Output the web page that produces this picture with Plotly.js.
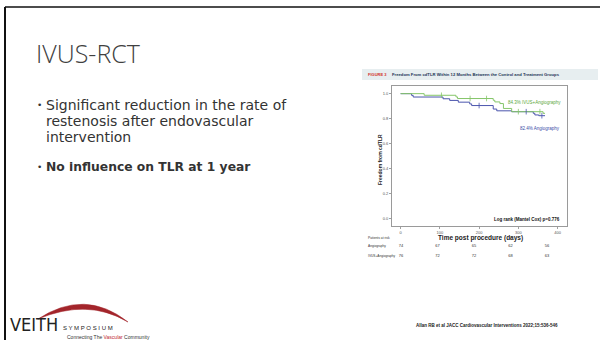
<!DOCTYPE html>
<html><head><meta charset="utf-8">
<script src="https://cdn.plot.ly/plotly-3.0.1.min.js"></script>
<style>html,body{margin:0;padding:0;background:#fff;}#chart{width:600px;height:340px;}</style>
</head><body><div id="chart"></div>
<script>
// ---- data ----
const ivusDays  = [0, 60, 141, 145, 236, 240, 253, 262, 283, 363, 368];
const ivusSurv  = [1.0, 0.987, 0.974, 0.961, 0.947, 0.934, 0.921, 0.882, 0.856, 0.843, 0.843];
const angioDays = [0, 28, 32, 108, 125, 147, 176, 181, 236, 245, 283, 338, 342, 352, 368];
const angioSurv = [1.0, 0.986, 0.973, 0.959, 0.946, 0.932, 0.918, 0.905, 0.877, 0.863, 0.856, 0.843, 0.830, 0.824, 0.824];
const ivusCensor  = [104, 177, 219, 300, 355];
const angioCensor = [200, 320, 360];
const xTicks = [0, 100, 200, 300, 400];
const yTicks = [0, 0.2, 0.4, 0.6, 0.8, 1.0];
const yTickText = ['0.0', '0.2', '0.4', '0.6', '0.8', '1.0'];
const riskTimes = [0, 100, 200, 300, 400];
const riskRows = ['Angiography', 'IVUS+Angiography'];
const riskAngio = [74, 67, 65, 62, 56];
const riskIvus  = [76, 72, 72, 68, 63];

const W = 600, H = 340;
const px = x => x / W, py = y => 1 - y / H;
const stepAt = (d, s, t) => { let v = s[0]; for (let i = 0; i < d.length; i++) if (d[i] <= t) v = s[i]; return v; };

const GREEN = '#86c66a', BLUE = '#4b55ad';

const traces = [
  {x: angioDays, y: angioSurv, mode: 'lines', line: {shape: 'hv', color: BLUE, width: 1}, hoverinfo: 'skip'},
  {x: ivusDays, y: ivusSurv, mode: 'lines', line: {shape: 'hv', color: GREEN, width: 1}, hoverinfo: 'skip'},
  {x: ivusCensor, y: ivusCensor.map(t => stepAt(ivusDays, ivusSurv, t)), mode: 'markers',
   marker: {symbol: 'line-ns-open', size: 4, color: GREEN, line: {width: 0.8, color: GREEN}}, hoverinfo: 'skip'},
  {x: angioCensor, y: angioCensor.map(t => stepAt(angioDays, angioSurv, t)), mode: 'markers',
   marker: {symbol: 'line-ns-open', size: 4, color: BLUE, line: {width: 0.8, color: BLUE}}, hoverinfo: 'skip'},
  {x: riskTimes.concat(riskTimes), y: riskTimes.map(() => 0).concat(riskTimes.map(() => 1)),
   text: riskAngio.concat(riskIvus).map(String), mode: 'text', xaxis: 'x2', yaxis: 'y2',
   textfont: {size: 4, color: '#333', family: 'Liberation Sans'}, cliponaxis: false, hoverinfo: 'skip'}
];

const tickFont = {size: 4, color: '#555', family: 'Liberation Sans'};
const ann = [];
function A(text, x, y, o) {
  o = o || {};
  ann.push(Object.assign({text: text, x: px(x), y: py(y), xref: 'paper', yref: 'paper', showarrow: false,
    xanchor: 'left', yanchor: 'middle', font: {size: 14, color: '#333', family: 'Lato'}}, o));
}
// slide texts
A('IVUS-RCT', 34, 53, {font: {size: 25, color: '#404040', family: 'Open Sans', weight: 300}});
const bodyFont = {size: 14, color: '#333', family: 'DejaVu Sans'};
A('•', 35, 105, {font: {size: 9, color: '#333', family: 'DejaVu Sans'}});
A('Significant reduction in the rate of', 44, 105, {font: bodyFont});
A('restenosis after endovascular', 44, 121, {font: bodyFont});
A('intervention', 44, 137, {font: bodyFont});
A('•', 35, 167, {font: {size: 9, color: '#333', family: 'DejaVu Sans'}});
A('No influence on TLR at 1 year', 44, 167, {font: {size: 12.3, color: '#333', family: 'DejaVu Sans', weight: 700}});
// chart texts
A('FIGURE 3', 366, 74.5, {font: {size: 4, color: '#d2302a', family: 'Liberation Sans', weight: 700}});
A('Freedom From cdTLR Within 12 Months Between the Control and Treatment Groups', 390, 74.5,
  {font: {size: 4.2, color: '#1e3556', family: 'Liberation Sans', weight: 700}});
A('84.3% IVUS+Angiography', 534, 102, {xanchor: 'center', font: {size: 4.5, color: '#5aa83c', family: 'Liberation Sans'}});
A('82.4% Angiography', 540, 128, {xanchor: 'center', font: {size: 4.5, color: '#3a4aa6', family: 'Liberation Sans'}});
A('Log rank (Mantel Cox) p=0.776', 527, 219, {xanchor: 'center', font: {size: 4.5, color: '#111', family: 'Liberation Sans', weight: 700}});
A('Freedom from cdTLR', 380, 160, {xanchor: 'center', textangle: -90, font: {size: 5, color: '#222', family: 'Liberation Sans', weight: 700}});
A('Time post procedure (days)', 480, 238, {xanchor: 'center', font: {size: 6.5, color: '#222', family: 'Liberation Sans', weight: 700}});
A('Patients at risk', 366, 238, {font: {size: 3.3, color: '#333', family: 'Liberation Sans'}});
ann.push({text: riskRows[0], x: px(366), y: 0, xref: 'paper', yref: 'y2', showarrow: false, xanchor: 'left', yanchor: 'middle', font: {size: 3.2, color: '#333', family: 'Liberation Sans'}});
ann.push({text: riskRows[1], x: px(366), y: 1, xref: 'paper', yref: 'y2', showarrow: false, xanchor: 'left', yanchor: 'middle', font: {size: 3.2, color: '#333', family: 'Liberation Sans'}});
A('Allan RB et al JACC Cardiovascular Interventions 2022;15:536-546', 487, 325, {xanchor: 'center', font: {size: 4.5, color: '#222', family: 'Liberation Sans', weight: 700}});
// logo
A('VEITH', 8, 324, {font: {size: 18, color: '#222', family: 'Liberation Sans Narrow, DejaVu Sans Condensed, sans-serif'}});
A('S Y M P O S I U M', 61, 328, {font: {size: 6, color: '#222', family: 'Liberation Sans'}});
A('Connecting The <span style="color:#c0282d">Vascular</span> Community', 65, 337, {font: {size: 5, color: '#333', family: 'Liberation Sans'}});

const shapes = [
  {type: 'line', xref: 'paper', yref: 'paper', x0: px(5), x1: px(5), y0: py(7), y1: 0, line: {color: '#111', width: 2}},
  {type: 'line', xref: 'paper', yref: 'paper', x0: px(5), x1: 1, y0: py(7), y1: py(7), line: {color: '#111', width: 1.5}},
  {type: 'rect', xref: 'paper', yref: 'paper', x0: px(362), x1: px(598), y0: py(80), y1: py(69), fillcolor: '#e7eef0', line: {width: 0}, layer: 'below'},
  {type: 'path', xref: 'paper', yref: 'paper',
   path: `M ${px(38)},${py(319)} Q ${px(85)},${py(288)} ${px(128)},${py(322)} Q ${px(88)},${py(298)} ${px(38)},${py(319)} Z`,
   fillcolor: '#a3252b', line: {color: '#a3252b', width: 0.5}}
];

const axisCommon = {showgrid: false, zeroline: false, showline: true, linecolor: '#9a9a9a', linewidth: 1,
  mirror: true, ticks: 'outside', ticklen: 2, tickwidth: 0.7, tickcolor: '#777', tickfont: tickFont, fixedrange: true};

const layout = {
  width: W, height: H, margin: {l: 0, r: 0, t: 0, b: 0}, showlegend: false,
  paper_bgcolor: '#fff', plot_bgcolor: '#fff',
  xaxis: Object.assign({}, axisCommon, {domain: [px(392), px(567)], range: [-22, 424], tickvals: xTicks}),
  yaxis: Object.assign({}, axisCommon, {domain: [py(226), py(86)], range: [-0.056, 1.061], tickvals: yTicks, ticktext: yTickText}),
  xaxis2: {domain: [px(392), px(567)], range: [-24.7, 455], visible: false, anchor: 'y2', fixedrange: true},
  yaxis2: {domain: [py(261), py(241)], range: [1.5, -0.5], visible: false, anchor: 'x2', fixedrange: true},
  annotations: ann, shapes: shapes
};
Plotly.newPlot('chart', traces, layout, {displayModeBar: false, staticPlot: true});
</script></body></html>
